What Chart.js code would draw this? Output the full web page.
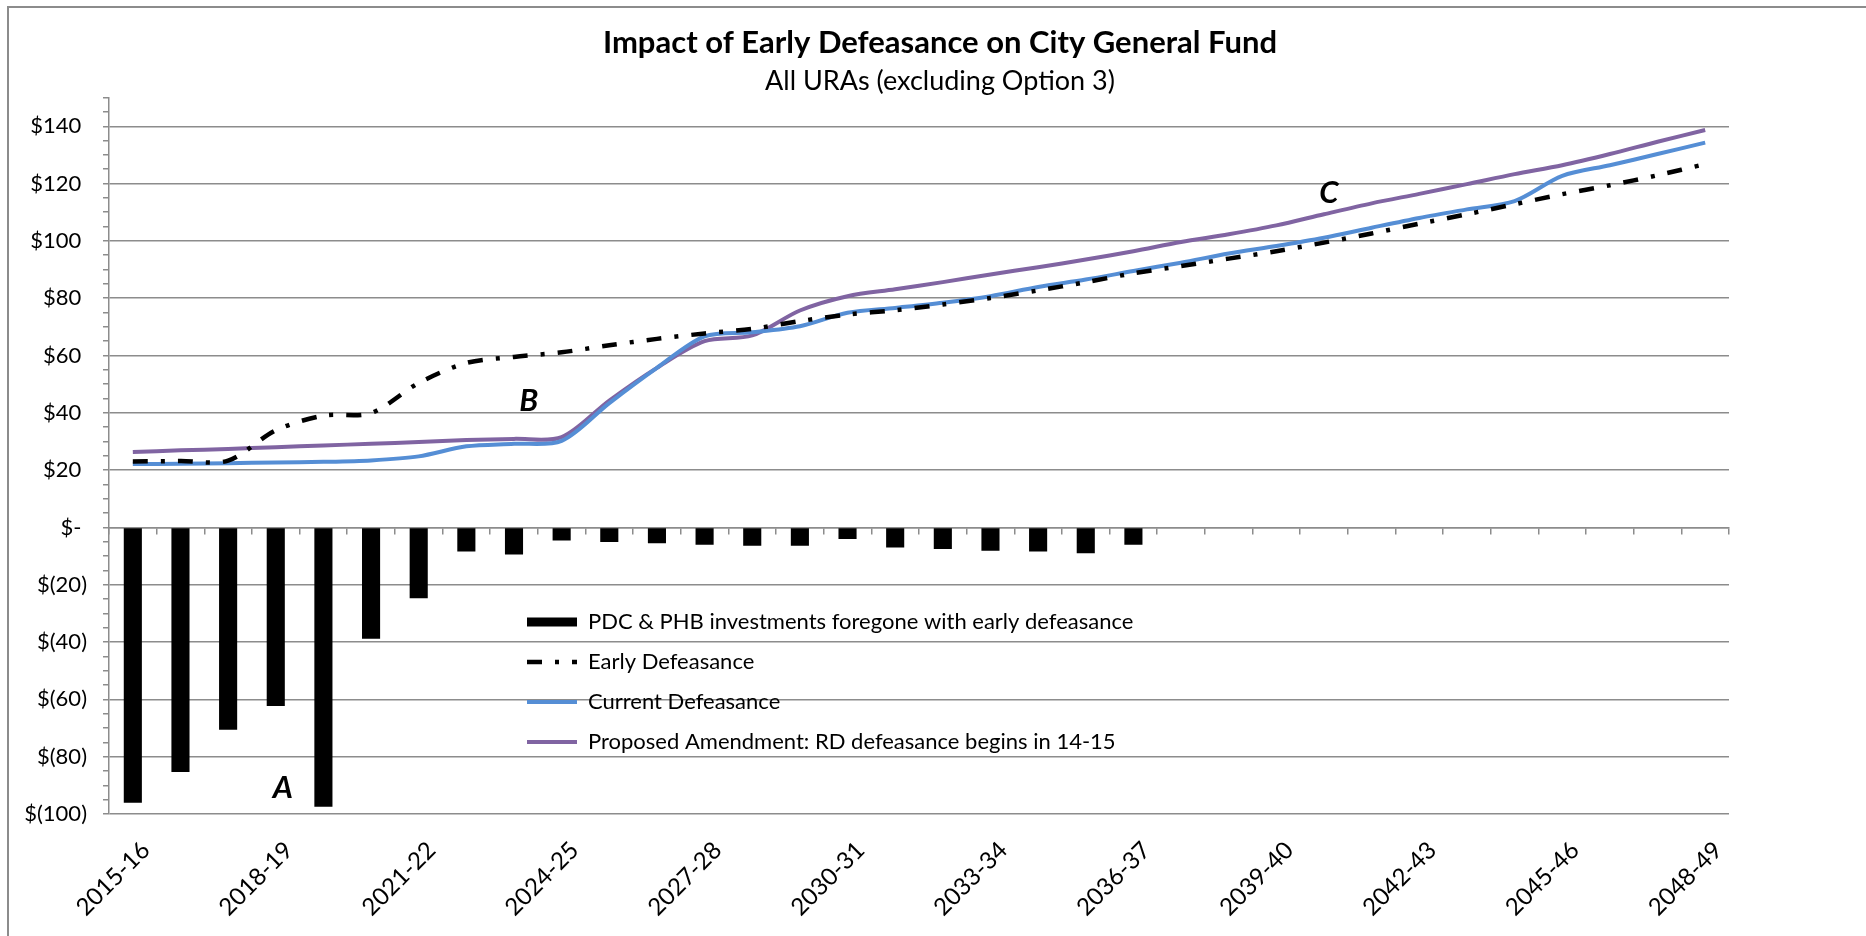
<!DOCTYPE html>
<html>
<head>
<meta charset="utf-8">
<title>Impact of Early Defeasance on City General Fund</title>
<script src="https://cdn.jsdelivr.net/npm/chart.js@4.4.1/dist/chart.umd.min.js"></script>
<style>
  html, body { margin: 0; padding: 0; background: #fff; overflow: hidden; }
  #frame { position: absolute; left: 7px; top: 6px; width: 1900px; height: 1000px; border: 2px solid #8c8c8c; }
  #wrap { position: absolute; left: 0; top: 0; width: 1866px; height: 936px; }
</style>
</head>
<body>
<div id="frame"></div>
<div id="wrap"><canvas id="chart"></canvas></div>
<script>
const years = [
  '2015-16', '2016-17', '2017-18', '2018-19', '2019-20', '2020-21', '2021-22', '2022-23',
  '2023-24', '2024-25', '2025-26', '2026-27', '2027-28', '2028-29', '2029-30', '2030-31',
  '2031-32', '2032-33', '2033-34', '2034-35', '2035-36', '2036-37', '2037-38', '2038-39',
  '2039-40', '2040-41', '2041-42', '2042-43', '2043-44', '2044-45', '2045-46', '2046-47',
  '2047-48', '2048-49'
];

// $ millions
const foregone = [
  -96.1, -85.3, -70.6, -62.3, -97.5, -38.8, -24.7, -8.4, -9.4, -4.6, -5.1,
  -5.5, -6.0, -6.4, -6.4, -4.0, -7.0, -7.5, -8.1, -8.4, -9.0, -6.0
];

const earlyDefeasance = [
  23.0, 23.2, 23.3, 33.9, 39.0, 39.9, 50.4, 57.4, 59.5, 61.1, 63.6, 65.8,
  67.7, 69.3, 72.0, 74.3, 75.8, 77.8, 80.1, 82.7, 85.6, 88.7, 91.2, 93.8,
  96.4, 99.4, 102.6, 106.0, 109.3, 112.8, 116.3, 119.4, 122.9, 126.8
];

const currentDefeasance = [
  22.1, 22.2, 22.4, 22.7, 22.9, 23.4, 24.8, 28.3, 29.2, 30.2, 43.4, 55.7,
  66.7, 68.1, 70.2, 74.9, 76.6, 78.4, 80.7, 83.9, 86.5, 89.5, 92.4, 95.6,
  98.2, 101.1, 104.6, 108.0, 111.0, 113.9, 122.7, 126.4, 130.3, 134.3
];

const proposedAmendment = [
  26.3, 26.9, 27.4, 28.0, 28.6, 29.2, 29.8, 30.5, 30.9, 31.5, 44.3, 55.7,
  65.0, 67.0, 75.7, 80.7, 83.1, 85.6, 88.3, 90.8, 93.5, 96.4, 99.6, 102.3,
  105.4, 109.3, 113.1, 116.4, 119.8, 123.3, 126.4, 130.3, 134.6, 138.7
];

const yTicks = [-100, -80, -60, -40, -20, 0, 20, 40, 60, 80, 100, 120, 140];

// letters written on the chart (category index, value)
const notes = [
  { text: 'A', x: 3.15, y: -91 },
  { text: 'B', x: 8.31, y: 44 },
  { text: 'C', x: 25.1, y: 116.6 }
];

const FONT = 'Lato, "Open Sans", sans-serif';
const GRID = '#8c8c8c';

const notesPlugin = {
  id: 'notes',
  afterDatasetsDraw(chart) {
    const { ctx, scales: { x, y } } = chart;
    ctx.save();
    ctx.font = 'italic bold 31px ' + FONT;
    ctx.fillStyle = '#000';
    ctx.textAlign = 'center';
    ctx.textBaseline = 'middle';
    notes.forEach(n => ctx.fillText(n.text, x.getPixelForValue(n.x), y.getPixelForValue(n.y)));
    ctx.restore();
  }
};

// put the legend inside the plot, under the line series
const legendSpot = {
  id: 'legendSpot',
  afterLayout(chart) {
    const lg = chart.legend;
    const area = chart.chartArea;
    lg.left = area.left + 400;
    lg.top = 593;
    lg.right = lg.left + 700;
    lg.bottom = lg.top + 200;
  }
};

new Chart(document.getElementById('chart'), {
  type: 'bar',
  data: {
    labels: years,
    datasets: [
      {
        type: 'bar',
        label: 'PDC & PHB investments foregone with early defeasance',
        data: foregone,
        backgroundColor: '#000',
        barPercentage: 0.38,
        categoryPercentage: 1,
        xAxisID: 'x',
        yAxisID: 'y'
      },
      {
        type: 'line',
        label: 'Early Defeasance',
        data: earlyDefeasance,
        borderColor: '#000',
        borderWidth: 4.5,
        borderDash: [15, 13, 4, 13],
        pointRadius: 0,
        tension: 0.3,
        fill: false,
        xAxisID: 'x',
        yAxisID: 'y'
      },
      {
        type: 'line',
        label: 'Current Defeasance',
        data: currentDefeasance,
        borderColor: '#558ed5',
        borderWidth: 4,
        pointRadius: 0,
        tension: 0.3,
        fill: false,
        xAxisID: 'x',
        yAxisID: 'y'
      },
      {
        type: 'line',
        label: 'Proposed Amendment: RD defeasance begins in 14-15',
        data: proposedAmendment,
        borderColor: '#8064a2',
        borderWidth: 4,
        pointRadius: 0,
        tension: 0.3,
        fill: false,
        xAxisID: 'x',
        yAxisID: 'y'
      }
    ]
  },
  options: {
    responsive: true,
    maintainAspectRatio: false,
    animation: false,
    layout: { padding: { left: 14, right: 0, top: 0, bottom: 0 } },
    plugins: {
      title: {
        display: true,
        text: 'Impact of Early Defeasance on City General Fund',
        color: '#000',
        font: { family: FONT, size: 31, weight: 'bold' },
        padding: { top: 24, bottom: 0 }
      },
      subtitle: {
        display: true,
        text: 'All URAs (excluding Option 3)',
        color: '#000',
        font: { family: FONT, size: 27 },
        padding: { top: 4, bottom: 0 }
      },
      legend: {
        display: true,
        position: 'chartArea',
        align: 'start',
        labels: {
          usePointStyle: true,
          pointStyleWidth: 50,
          boxHeight: 9,
          padding: 18,
          color: '#000',
          font: { family: FONT, size: 22 },
          generateLabels(chart) {
            return chart.data.datasets.map((ds, i) => ({
              text: ds.label,
              datasetIndex: i,
              hidden: false,
              fontColor: '#000',
              pointStyle: ds.type === 'bar' ? 'rect' : 'line',
              fillStyle: ds.type === 'bar' ? ds.backgroundColor : ds.borderColor,
              strokeStyle: ds.type === 'bar' ? ds.backgroundColor : ds.borderColor,
              lineWidth: ds.type === 'bar' ? 0 : ds.borderWidth,
              lineDash: ds.borderDash || [],
              lineCap: 'butt'
            }));
          }
        }
      },
      tooltip: { enabled: false }
    },
    scales: {
      x: {
        type: 'category',
        axis: 'x',
        position: { y: 0 },
        offset: true,
        ticks: { display: false },
        grid: {
          display: true,
          drawOnChartArea: false,
          drawTicks: true,
          tickLength: 6,
          offset: true,
          color: GRID,
          lineWidth: 1.5
        },
        border: { display: true, color: GRID, width: 1.5 }
      },
      xLabels: {
        type: 'category',
        axis: 'x',
        position: 'bottom',
        offset: true,
        grid: { display: false },
        border: { display: false },
        ticks: {
          autoSkip: false,
          maxRotation: 45,
          minRotation: 45,
          padding: 14,
          labelOffset: 13,
          color: '#000',
          font: { family: FONT, size: 24 },
          callback(v, i) { return i % 3 === 0 ? years[i] : ''; }
        },
        afterFit(s) { s.height = 122; }
      },
      y: {
        type: 'linear',
        position: 'left',
        min: -100,
        max: 150,
        ticks: {
          stepSize: 5,
          autoSkip: false,
          padding: 16,
          color: '#000',
          font: { family: FONT, size: 22 },
          callback(v) {
            if (!yTicks.includes(v)) return '';
            if (v === 0) return '$- ';
            return v < 0 ? '$(' + (-v) + ')' : '$' + v + ' ';
          }
        },
        grid: {
          color: c => (c.tick && yTicks.includes(c.tick.value)) ? GRID : 'rgba(0,0,0,0)',
          tickColor: GRID,
          lineWidth: 1.5,
          tickLength: 6
        },
        border: { display: true, color: GRID, width: 1.5 },
        afterFit(s) { s.width = 95; }
      },
      yRight: {
        type: 'linear',
        axis: 'y',
        position: 'right',
        display: true,
        grid: { display: false },
        ticks: { display: false },
        border: { display: false },
        afterFit(s) { s.width = 137; }
      }
    }
  },
  plugins: [notesPlugin, legendSpot]
});
</script>
</body>
</html>
